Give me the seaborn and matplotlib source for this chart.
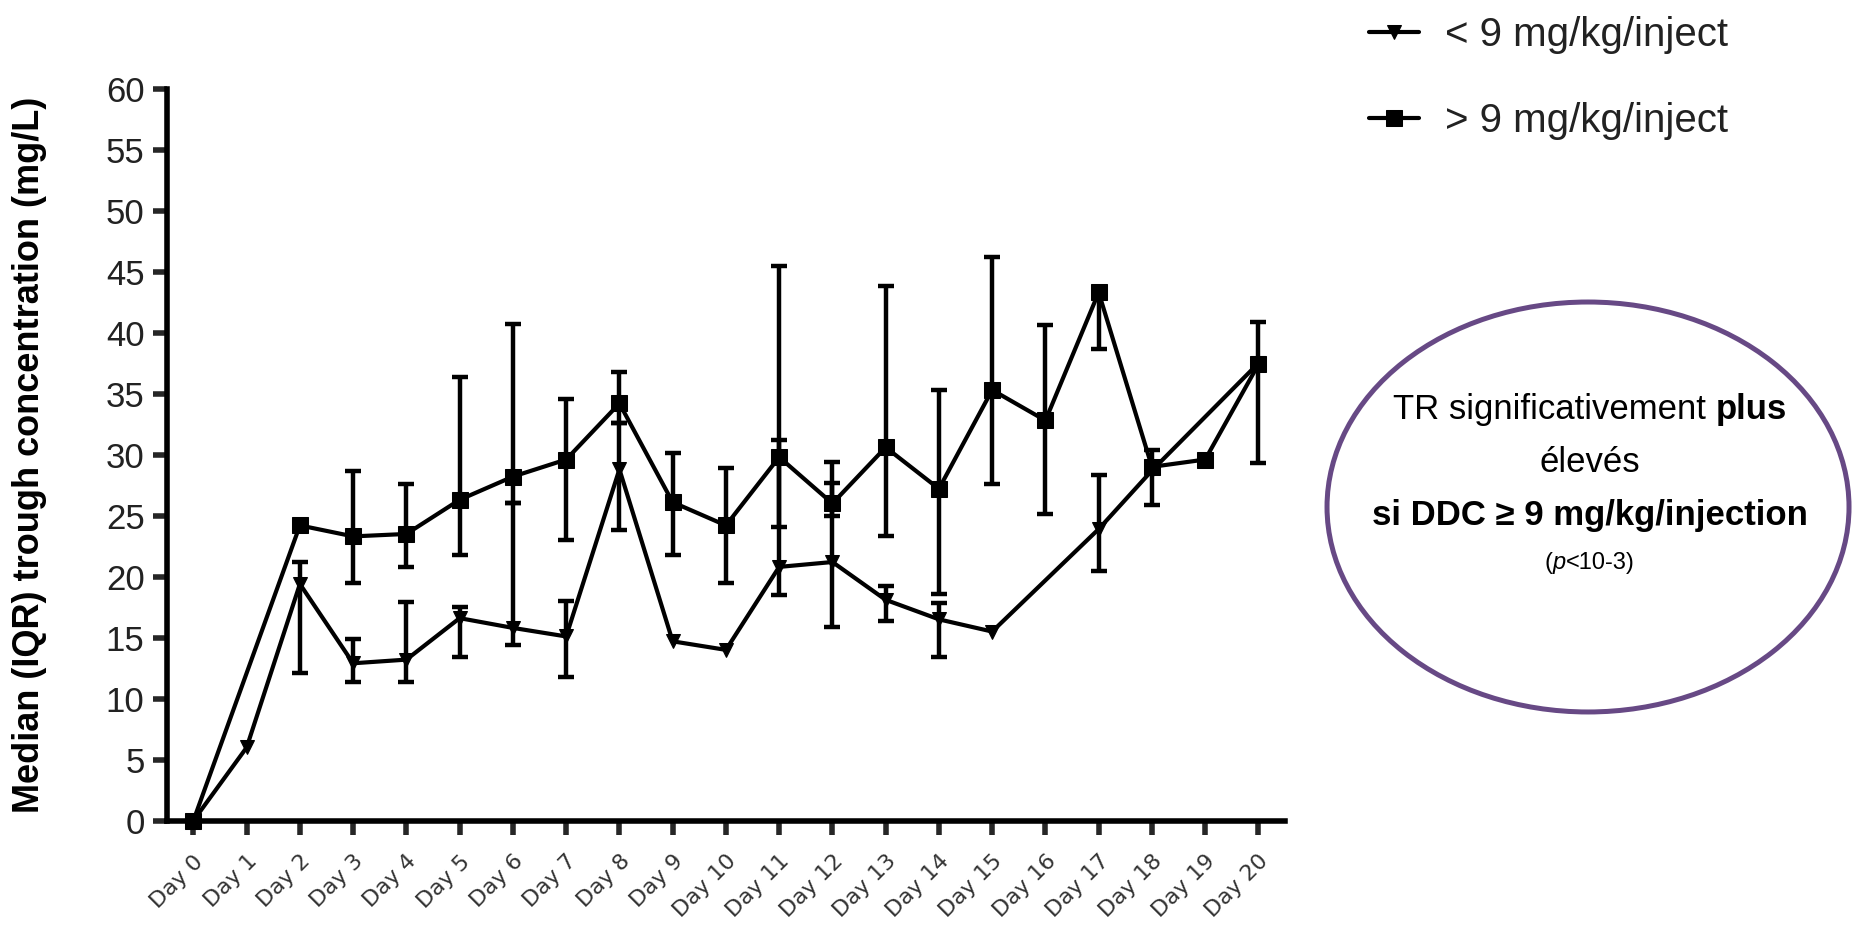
import numpy as np
import pandas as pd
import matplotlib
matplotlib.use("Agg")
import matplotlib.pyplot as plt
import seaborn as sns
from matplotlib.patches import Ellipse

nan = np.nan
days = list(range(21))
day_labels = [f"Day {d}" for d in days]

# < 9 mg/kg/inject : median and IQR
low_med = [0, 6.0, 19.4, 12.9, 13.2, 16.6, 15.8, 15.1, 28.8, 14.7, 14.0,
           20.8, 21.2, 18.1, 16.5, 15.5, nan, 23.9, 28.7, nan, 37.5]
low_q1 = [nan, nan, 12.1, 11.4, 11.4, 13.4, 14.4, 11.8, 23.8, nan, nan,
          18.5, 15.9, 16.4, 13.4, nan, nan, 20.5, nan, nan, nan]
low_q3 = [nan, nan, 21.2, 14.9, 17.9, 17.5, 26.0, 18.0, 32.6, nan, nan,
          31.2, 27.7, 19.2, 17.8, nan, nan, 28.3, nan, nan, nan]

# > 9 mg/kg/inject : median and IQR
high_med = [0, nan, 24.2, 23.3, 23.5, 26.3, 28.2, 29.6, 34.2, 26.1, 24.2,
            29.8, 26.0, 30.6, 27.2, 35.3, 32.8, 43.3, 29.0, 29.6, 37.4]
high_q1 = [nan, nan, nan, 19.5, 20.8, 21.8, 26.0, 23.0, 32.6, 21.8, 19.5,
           24.1, 25.0, 23.3, 18.6, 27.6, 25.1, 38.7, 25.9, nan, 29.3]
high_q3 = [nan, nan, nan, 28.7, 27.6, 36.4, 40.7, 34.6, 36.8, 30.1, 28.9,
           45.5, 29.4, 43.8, 35.3, 46.2, 40.6, 43.3, 30.4, nan, 40.9]

labels = ["< 9 mg/kg/inject", "> 9 mg/kg/inject"]

sns.set_style("ticks")
plt.rcParams["font.family"] = ["Liberation Sans", "DejaVu Sans"]

fig = plt.figure(figsize=(18.53, 9.33), dpi=100)
ax = fig.add_axes([0.090, 0.1204, 0.6035, 0.7846])

groups = [
    (labels[0], low_med, low_q1, low_q3, "v", 10),
    (labels[1], high_med, high_q1, high_q3, "s", 12),
]
for name, med, q1, q3, mk, ms in groups:
    df = pd.DataFrame({"day": days, "median": med, "q1": q1, "q3": q3})
    df = df.dropna(subset=["median"])
    sns.lineplot(data=df, x="day", y="median", ax=ax, color="black",
                 marker=mk, markersize=ms, markeredgecolor="black",
                 linewidth=3.0, label=name, clip_on=False, zorder=3)
    bars = df.dropna(subset=["q1", "q3"])
    ax.errorbar(bars["day"], bars["median"],
                yerr=[bars["median"] - bars["q1"], bars["q3"] - bars["median"]],
                fmt="none", ecolor="black", elinewidth=3.2, capsize=6,
                capthick=3.2, zorder=3, clip_on=False)

ax.set_xlim(-0.5, 20.5)
ax.set_ylim(0, 60)
ax.set_xticks(days)
ax.set_xticklabels(day_labels, rotation=45, ha="right", rotation_mode="anchor",
                   fontsize=16, family="DejaVu Sans", color="#333333")
ax.set_yticks(range(0, 61, 5))
ax.tick_params(axis="y", labelsize=25, labelcolor="#222222", pad=6)
ax.tick_params(axis="both", direction="out", length=10, width=4)
ax.tick_params(axis="x", pad=12)
for s in ["top", "right"]:
    ax.spines[s].set_visible(False)
for s in ["left", "bottom"]:
    ax.spines[s].set_linewidth(4)
    ax.spines[s].set_color("black")
ax.set_xlabel("")
ax.set_ylabel("Median (IQR) trough concentration (mg/L)", fontsize=26,
              fontweight="bold", color="black")
ax.yaxis.set_label_coords(-0.107, 0.5)

h, l = ax.get_legend_handles_labels()
ax.get_legend().remove()
fig.legend(h, l, loc="upper left", bbox_to_anchor=(0.719, 1.022),
           frameon=False, fontsize=29, handlelength=1.25, handletextpad=0.65,
           labelspacing=1.2, labelcolor="#222222")

# annotation ellipse
fig.add_artist(Ellipse((0.857, 0.4566), 0.2817, 0.4394,
                       transform=fig.transFigure, fill=False,
                       edgecolor="#674985", linewidth=3.6))

fig.canvas.draw()
renderer = fig.canvas.get_renderer()
W = fig.bbox.width


def centered_line(xc, y, parts):
    texts = []
    for txt, kw in parts:
        t = fig.text(0, y, txt, va="center", ha="left", color="black", **kw)
        texts.append(t)
    widths = [t.get_window_extent(renderer).width / W for t in texts]
    x = xc - sum(widths) / 2
    for t, w in zip(texts, widths):
        t.set_x(x)
        x += w


centered_line(0.858, 0.5606, [("TR significativement ", dict(fontsize=25)),
                              ("plus", dict(fontsize=25, fontweight="bold"))])
centered_line(0.858, 0.5038, [("élevés", dict(fontsize=25))])
centered_line(0.858, 0.4480, [("si DDC ≥ 9 mg/kg/injection",
                               dict(fontsize=25, fontweight="bold"))])
centered_line(0.858, 0.3966, [("(", dict(fontsize=17)),
                              ("p", dict(fontsize=17, style="italic")),
                              ("<10-3)", dict(fontsize=17))])

fig.savefig("out.png", dpi=100)
